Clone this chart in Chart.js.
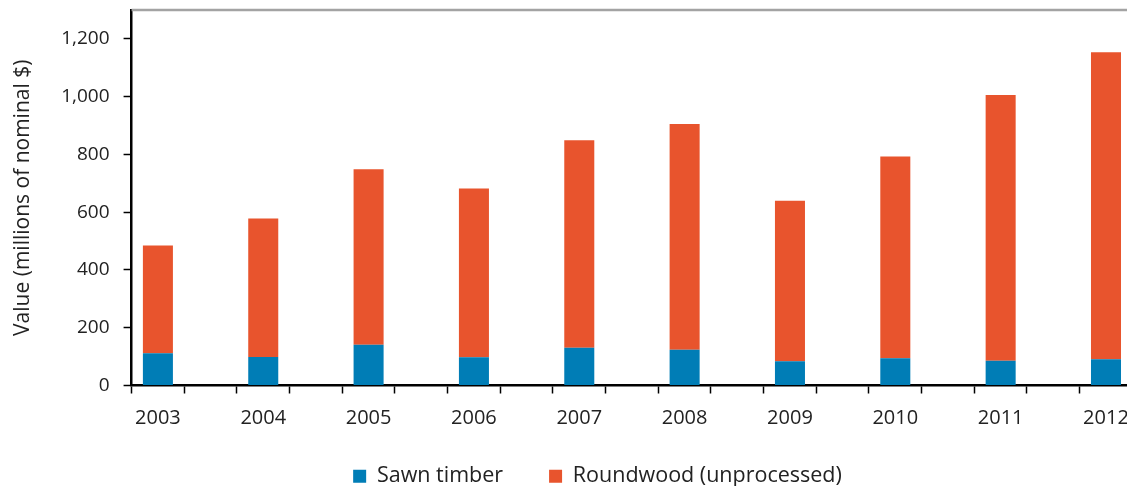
<!DOCTYPE html>
<html lang="en">
  <head>
    <meta charset="UTF-8" />
    <title>Timber export value</title>
    <script src="https://cdn.jsdelivr.net/npm/chart.js"></script>
    <style>
      html,
      body {
        margin: 0;
        background: #ffffff;
        overflow: hidden;
      }

      .chart {
        position: relative;
        width: 1206px;
        height: 486px;
      }
    </style>
  </head>
  <body>
    <div class="chart">
      <canvas id="valueChart"></canvas>
    </div>
    <script>
      const years = ["2003", "2004", "2005", "2006", "2007", "2008", "2009", "2010", "2011", "2012"];
      const sawnTimber = [112, 99, 141, 98, 131, 124, 84, 94, 86, 91];
      const roundwood = [373, 479, 608, 584, 718, 781, 556, 699, 920, 1063];
      const yTicks = [0, 200, 400, 600, 800, 1000, 1200];
      const yMax = 1300;

      // every year gets a second, empty slot so the ticks fall at half steps
      const labels = years.flatMap((y) => [y, ""]);
      const spread = (arr) => arr.flatMap((v) => [v, null]);

      const font = "'Open Sans', sans-serif";

      // grey frame line along the top of the plot
      const topLine = {
        id: "topLine",
        afterDraw(chart) {
          const { ctx, chartArea } = chart;
          ctx.save();
          ctx.strokeStyle = "#a3a3a3";
          ctx.lineWidth = 2.5;
          ctx.beginPath();
          ctx.moveTo(chartArea.left, chartArea.top);
          ctx.lineTo(chartArea.right, chartArea.top);
          ctx.stroke();
          ctx.restore();
        },
      };

      // pull the legend up a little, closer to the year labels
      const legendUp = {
        id: "legendUp",
        afterLayout(chart) {
          chart.legend.top -= 24;
          chart.legend.bottom -= 24;
        },
      };

      new Chart(document.getElementById("valueChart"), {
        type: "bar",
        data: {
          labels: labels,
          datasets: [
            {
              label: "Sawn timber",
              data: spread(sawnTimber),
              backgroundColor: "#007db6",
            },
            {
              label: "Roundwood (unprocessed)",
              data: spread(roundwood),
              backgroundColor: "#e8542d",
            },
          ],
        },
        options: {
          responsive: true,
          maintainAspectRatio: false,
          animation: false,
          barPercentage: 0.57,
          categoryPercentage: 1,
          layout: { padding: { top: 10, right: 21, left: 10, bottom: -35 } },
          scales: {
            x: {
              stacked: true,
              grid: {
                offset: true,
                drawOnChartArea: false,
                tickLength: 8,
                tickColor: "#000",
                tickWidth: 1.5,
              },
              border: { color: "#000", width: 2.5 },
              ticks: {
                autoSkip: false,
                maxRotation: 0,
                color: "#222",
                padding: 13,
                font: { family: font, size: 20 },
              },
            },
            y: {
              stacked: true,
              min: 0,
              max: yMax,
              afterBuildTicks: (axis) => {
                axis.ticks = yTicks.map((v) => ({ value: v }));
              },
              afterFit: (axis) => {
                axis.paddingTop = 0;
              },
              grid: {
                drawOnChartArea: false,
                tickLength: 8,
                tickColor: "#000",
                tickWidth: 1.5,
              },
              border: { color: "#000", width: 2.5 },
              ticks: {
                color: "#222",
                padding: 14,
                font: { family: font, size: 19 },
                callback: (v) => v.toLocaleString("en-US"),
              },
              title: {
                display: true,
                text: "Value (millions of nominal $)",
                color: "#222",
                padding: { top: 0, bottom: 12 },
                font: { family: font, size: 21 },
              },
            },
          },
          plugins: {
            legend: {
              position: "bottom",
              labels: {
                color: "#222",
                boxWidth: 13,
                boxHeight: 13,
                padding: 46,
                font: { family: font, size: 21.5 },
              },
            },
            tooltip: { enabled: false },
          },
        },
        plugins: [topLine, legendUp],
      });
    </script>
  </body>
</html>
